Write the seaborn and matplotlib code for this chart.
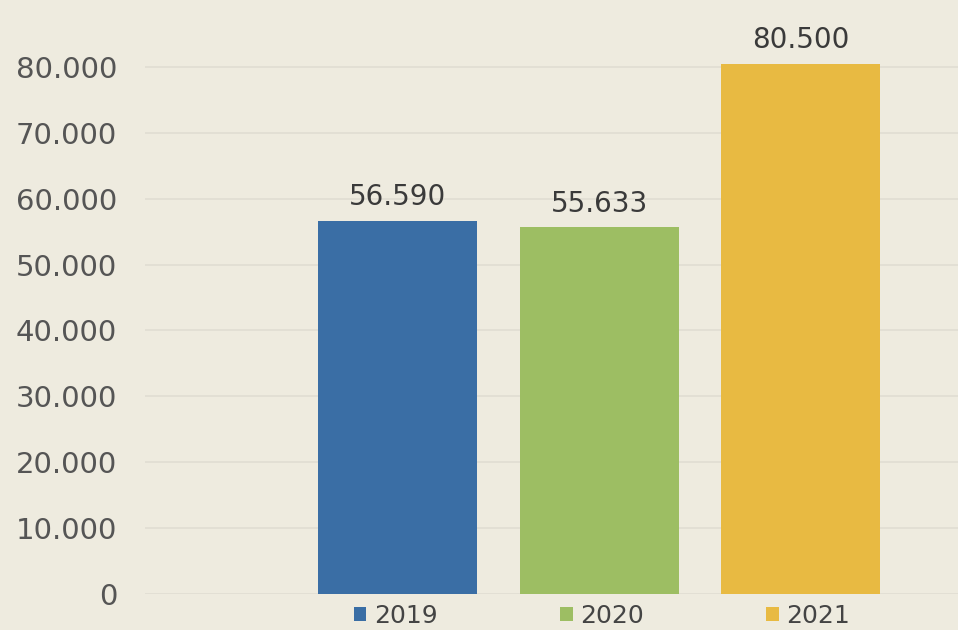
import matplotlib
matplotlib.use("Agg")
import matplotlib.pyplot as plt
import matplotlib.patches as mpatches
import seaborn as sns
import pandas as pd

# Data
years = ["2019", "2020", "2021"]
values = [56590, 55633, 80500]
colors = ["#3A6EA5", "#9DBE63", "#E8BA42"]
y_ticks = [0, 10000, 20000, 30000, 40000, 50000, 60000, 70000, 80000]

bg = "#EEEBDF"
sns.set_theme(style="white")
plt.rcParams["font.family"] = ["DejaVu Sans"]


def fmt(v):
    return f"{v:,.0f}".replace(",", ".")


df = pd.DataFrame({"year": years, "value": values})

fig = plt.figure(figsize=(9.58, 6.30), dpi=100, facecolor=bg)
ax = fig.add_axes([145 / 958, 36 / 630, 813 / 958, 560 / 630], facecolor=bg)

sns.barplot(data=df, x="year", y="value", hue="year", palette=colors,
            order=years, hue_order=years, width=0.79, legend=False,
            saturation=1, linewidth=0, edgecolor="none", ax=ax)

ax.set_xlim(-1.253, 2.78)
ax.set_ylim(0, 85000)
ax.set_yticks(y_ticks)
ax.set_yticklabels([fmt(t) for t in y_ticks], fontsize=21, color="#555555")
ax.tick_params(axis="y", length=0, pad=20)
ax.set_xticks([])
ax.set_xlabel("")
ax.set_ylabel("")
for s in ax.spines.values():
    s.set_visible(False)
ax.grid(axis="y", color="#E0DDD2", linewidth=1.2)
ax.set_axisbelow(True)

for cont in ax.containers:
    ax.bar_label(cont, labels=[fmt(b.get_height()) for b in cont],
                 padding=7, fontsize=20, color="#3A3A3A")

handles = [mpatches.Patch(facecolor=c, edgecolor="none", label=y)
           for c, y in zip(colors, years)]
ax.legend(handles=handles, loc="center", ncol=3, frameon=False,
          bbox_to_anchor=(457 / 813, -22 / 560), fontsize=18,
          handlelength=0.5, handleheight=0.5, handletextpad=0.3,
          columnspacing=4.9, labelcolor="#444444", borderpad=0)

fig.savefig("out.png", dpi=100, facecolor=bg)
